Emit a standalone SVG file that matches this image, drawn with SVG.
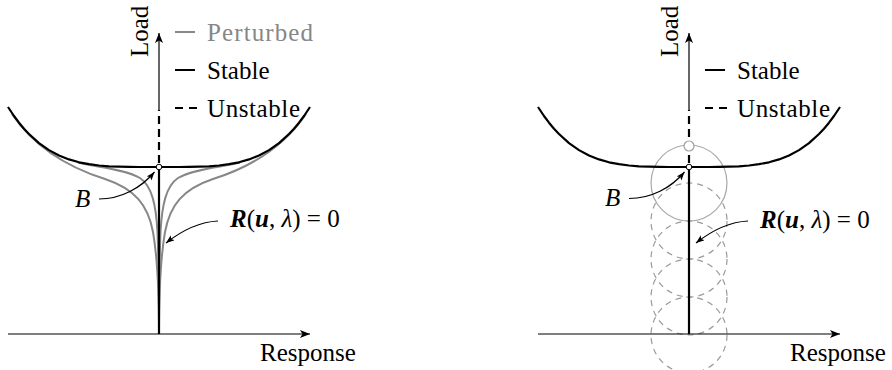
<svg xmlns="http://www.w3.org/2000/svg" width="892" height="370" viewBox="0 0 892 370">
<style>
text{font-family:"Liberation Serif","Times New Roman",serif;font-size:25px;fill:#000}
.ax{stroke:#000;stroke-width:1.2;fill:none}
.stab{stroke:#000;stroke-width:2.2;fill:none;stroke-linejoin:round;stroke-linecap:butt}
.unst{stroke:#000;stroke-width:2.2;fill:none;stroke-dasharray:8 5}
.pert{stroke:#878787;stroke-width:2;fill:none}
.ptr{stroke:#000;stroke-width:1.2;fill:none}
.circ{stroke:#a8a8a8;stroke-width:1.2;fill:none}
.dcirc{stroke:#9a9a9a;stroke-width:1.2;fill:none;stroke-dasharray:6 5}
.bt{font-weight:bold;font-style:italic}
.it{font-style:italic}
</style>
<defs>
<marker id="ah" markerUnits="userSpaceOnUse" markerWidth="12" markerHeight="10" refX="10" refY="4" orient="auto">
<path d="M0,0 L10,4 L0,8 L2.5,4 z" fill="#000"/>
</marker>
<marker id="sa" markerUnits="userSpaceOnUse" markerWidth="10" markerHeight="8" refX="8.5" refY="3.2" orient="auto">
<path d="M0,0 L8.5,3.2 L0,6.4 L2,3.2 z" fill="#000"/>
</marker>
<path id="stcurve" d="M8,107 L14,116 L19,122.7 L24,128.7 L29,134 L39,143.1 L49,150.1 L59,155.5 L69,159.4 L79,162.3 L89,164.2 L99,165.5 L109,166.3 L119,166.7 L129,166.9 L139,167 L159,167 L179,167 L189,166.9 L199,166.7 L209,166.3 L219,165.5 L229,164.2 L239,162.3 L249,159.4 L259,155.5 L269,150.1 L279,143.1 L289,134 L294,128.7 L299,122.7 L304,116 L310,107"/>
</defs>

<!-- LEFT PANEL -->
<g id="left-perturbed">
<path class="pert" d="M12,114 C35,148 70,168 105,179 C135,189 148,205 153,232 C157,255 159,280 159,333"/>
<path class="pert" d="M306,114 C283,148 248,168 213,179 C183,189 170,205 165,232 C161,255 159,280 159,333"/>
<path class="pert" d="M78,162.5 C95,167 125,169 140,178 C152,186 156,205 157.5,232 C158.5,258 159,290 159,333"/>
<path class="pert" d="M240,162.5 C223,167 193,169 178,178 C166,186 162,205 160.5,232 C159.5,258 159,290 159,333"/>
</g>
<g id="left-stable">
<use href="#stcurve" class="stab"/>
<line class="stab" x1="159" y1="167" x2="159" y2="334"/>
</g>
<g id="left-unstable">
<line class="unst" x1="159" y1="163" x2="159" y2="110"/>
</g>
<g id="left-axes">
<line class="ax" x1="159" y1="110" x2="159" y2="33" marker-end="url(#ah)"/>
<line class="ax" x1="8" y1="334" x2="310" y2="334" marker-end="url(#ah)"/>
<text transform="translate(148,57) rotate(-90)">Load</text>
<text x="260" y="361">Response</text>
</g>
<g id="left-B">
<circle cx="159" cy="167" r="2.8" fill="#fff" stroke="#000" stroke-width="1"/>
<text class="it" x="75" y="207">B</text>
</g>
<g id="left-legend">
<line x1="175" y1="32" x2="195" y2="32" stroke="#878787" stroke-width="2"/>
<text x="207" y="41" fill="#878787" style="fill:#878787" textLength="106">Perturbed</text>
<line x1="175" y1="70" x2="195" y2="70" stroke="#000" stroke-width="2"/>
<text x="207" y="79">Stable</text>
<line x1="175" y1="108" x2="197" y2="108" stroke="#000" stroke-width="2" stroke-dasharray="8 6"/>
<text x="207" y="117" textLength="93">Unstable</text>
</g>
<g id="left-eq">
<text x="230" y="227"><tspan class="bt">R</tspan>(<tspan class="bt">u</tspan>, <tspan class="it">λ</tspan>) = 0</text>
</g>
<g id="left-connectors">
<path class="ptr" d="M99,199 C121,199 141,188 154.5,172" marker-end="url(#sa)"/>
<path class="ptr" d="M218,221 C198,222 180,232 166,243" marker-end="url(#sa)"/>
</g>

<!-- RIGHT PANEL -->
<g id="right-circles">
<circle class="dcirc" cx="689" cy="221" r="38"/>
<circle class="dcirc" cx="689" cy="259" r="38"/>
<circle class="dcirc" cx="689" cy="297" r="38"/>
<circle class="dcirc" cx="689" cy="335" r="38"/>
<circle class="circ" cx="689" cy="183" r="38"/>
</g>
<g id="right-stable">
<use href="#stcurve" class="stab" transform="translate(530,0)"/>
<line class="stab" x1="689" y1="167" x2="689" y2="334"/>
</g>
<g id="right-unstable">
<line class="unst" x1="689" y1="163" x2="689" y2="110"/>
</g>
<g id="right-axes">
<line class="ax" x1="689" y1="110" x2="689" y2="33" marker-end="url(#ah)"/>
<line class="ax" x1="538" y1="334" x2="840" y2="334" marker-end="url(#ah)"/>
<text transform="translate(678,57) rotate(-90)">Load</text>
<text x="790" y="361">Response</text>
</g>
<g id="right-B">
<circle cx="689" cy="146" r="5" fill="#fff" stroke="#a0a0a0" stroke-width="1.2"/>
<circle cx="689" cy="167" r="2.8" fill="#fff" stroke="#000" stroke-width="1"/>
<text class="it" x="605" y="206">B</text>
</g>
<g id="right-legend">
<line x1="705" y1="70" x2="725" y2="70" stroke="#000" stroke-width="2"/>
<text x="737" y="79">Stable</text>
<line x1="705" y1="108" x2="727" y2="108" stroke="#000" stroke-width="2" stroke-dasharray="8 6"/>
<text x="737" y="117" textLength="93">Unstable</text>
</g>
<g id="right-eq">
<text x="760" y="228"><tspan class="bt">R</tspan>(<tspan class="bt">u</tspan>, <tspan class="it">λ</tspan>) = 0</text>
</g>
<g id="right-connectors">
<path class="ptr" d="M629,198.5 C651,198.5 671,188 684.5,172" marker-end="url(#sa)"/>
<path class="ptr" d="M748,221 C728,222 710,232 696,243" marker-end="url(#sa)"/>
</g>
</svg>
